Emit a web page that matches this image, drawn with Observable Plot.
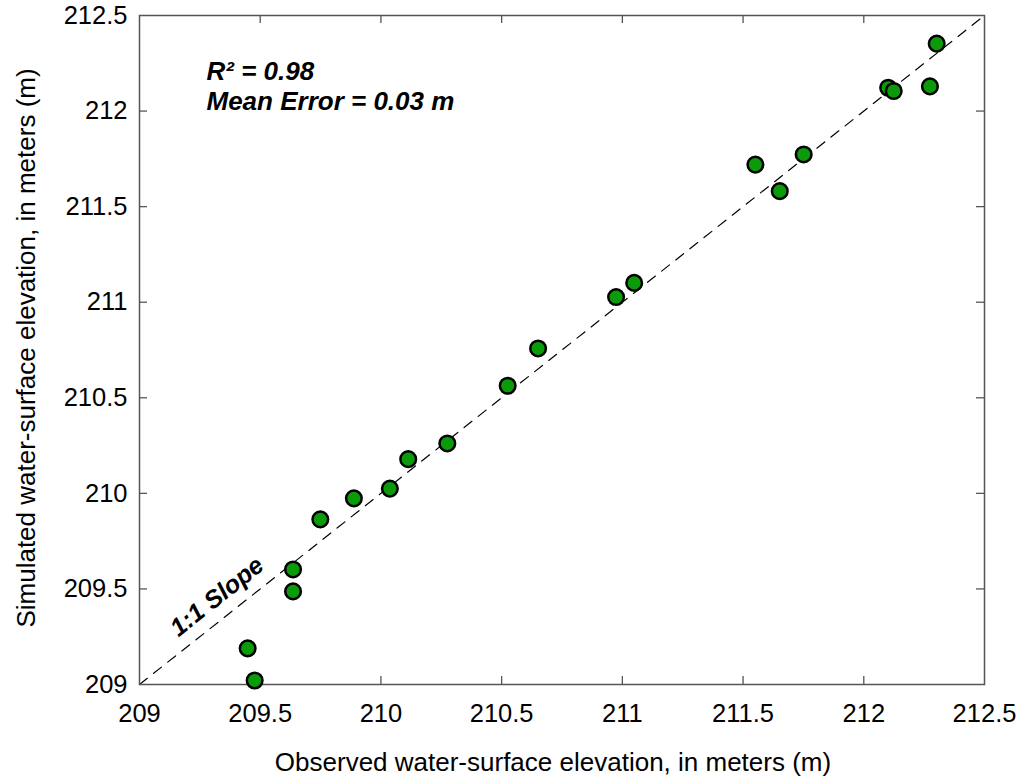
<!DOCTYPE html>
<html><head><meta charset="utf-8">
<script src="https://cdn.jsdelivr.net/npm/d3@7"></script>
<script src="https://cdn.jsdelivr.net/npm/@observablehq/plot@0.6"></script>
<style>body{margin:0;background:#fff}</style>
</head><body><div id="chart"></div>
<script>
const observed  = [209.448, 209.477, 209.636, 209.636, 209.749, 209.888, 210.037, 210.113, 210.275, 210.525, 210.651, 210.974, 211.049, 211.551, 211.652, 211.751, 212.101, 212.124, 212.274, 212.302];
const simulated = [209.189, 209.021, 209.602, 209.487, 209.864, 209.974, 210.025, 210.179, 210.261, 210.563, 210.758, 211.027, 211.101, 211.720, 211.581, 211.773, 212.122, 212.105, 212.129, 212.353];
const xTicks = [209, 209.5, 210, 210.5, 211, 211.5, 212, 212.5];
const yTicks = [209, 209.5, 210, 210.5, 211, 211.5, 212, 212.5];
const oneToOne = [209, 212.5];
const statLines = ["R² = 0.98", "Mean Error = 0.03 m"];
const slopeLabel = [{x: 209.35, y: 209.35, text: "1:1 Slope"}];
const xLabel = "Observed water-surface elevation, in meters (m)";
const yLabel = "Simulated water-surface elevation, in meters (m)";

const points = observed.map((x, i) => ({x, y: simulated[i]}));
const W = 1031, H = 776, mt = 15, mb = 92, ml = 139, mr = 47;
const innerH = H - mt - mb, innerW = W - ml - mr;
const tk = 8;
const font = "'Liberation Sans', Arial, sans-serif";
const frameColor = "#555";

const chart = Plot.plot({
  width: W, height: H,
  marginTop: mt, marginBottom: mb, marginLeft: ml, marginRight: mr,
  style: {fontFamily: font, background: "#fff", color: "#000"},
  x: {domain: [209, 212.5], label: null},
  y: {domain: [209, 212.5], label: null},
  marks: [
    Plot.axisX(xTicks, {tickSize: 0, tickPadding: 19, fontSize: 25.5, tickFormat: d => String(d), label: null}),
    Plot.axisY(yTicks, {tickSize: 0, tickPadding: 12, fontSize: 25.5, tickFormat: d => String(d), label: null}),
    Plot.tickX(xTicks.slice(1, -1), {x: d => d, insetTop: innerH - tk, stroke: frameColor, strokeWidth: 1.3}),
    Plot.tickX(xTicks.slice(1, -1), {x: d => d, insetBottom: innerH - tk, stroke: frameColor, strokeWidth: 1.3}),
    Plot.tickY(yTicks.slice(1, -1), {y: d => d, insetRight: innerW - tk, stroke: frameColor, strokeWidth: 1.3}),
    Plot.tickY(yTicks.slice(1, -1), {y: d => d, insetLeft: innerW - tk, stroke: frameColor, strokeWidth: 1.3}),
    Plot.line(oneToOne, {x: d => d, y: d => d, stroke: "#000", strokeWidth: 1.2, strokeDasharray: "10,8"}),
    Plot.frame({stroke: frameColor, strokeWidth: 1.5}),
    Plot.dot(points, {x: "x", y: "y", r: 7.8, fill: "#0a9a0a", stroke: "#000", strokeWidth: 2.5}),
    Plot.text([statLines[0]], {frameAnchor: "top-left", text: d => d, textAnchor: "start", lineAnchor: "bottom", dx: 67, dy: 64, fontSize: 26, fontWeight: "bold", fontStyle: "italic"}),
    Plot.text([statLines[1]], {frameAnchor: "top-left", text: d => d, textAnchor: "start", lineAnchor: "bottom", dx: 67, dy: 94, fontSize: 26, fontWeight: "bold", fontStyle: "italic"}),
    Plot.text(slopeLabel, {x: "x", y: "y", text: "text", rotate: -38.4, dx: -7, dy: -21, fontSize: 25, fontWeight: "bold", fontStyle: "italic"}),
    Plot.text([xLabel], {frameAnchor: "bottom", text: d => d, textAnchor: "middle", lineAnchor: "bottom", dx: -9, dy: 86, fontSize: 26}),
    Plot.text([yLabel], {frameAnchor: "left", text: d => d, textAnchor: "middle", lineAnchor: "middle", rotate: -90, dx: -113, dy: -2, fontSize: 26})
  ]
});
document.getElementById("chart").appendChild(chart);
</script>
</body></html>
